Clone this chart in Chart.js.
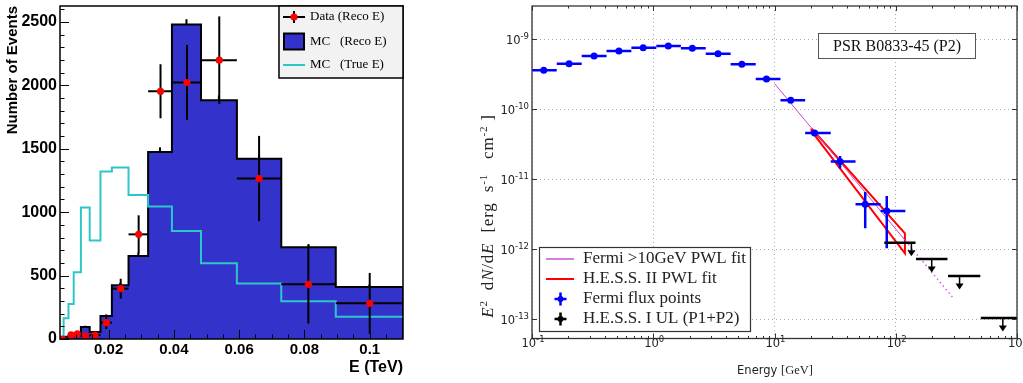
<!DOCTYPE html>
<html>
<head>
<meta charset="utf-8">
<script src="https://cdn.jsdelivr.net/npm/chart.js@4.4.1/dist/chart.umd.min.js"></script>
<style>
  body { margin: 0; background: #fff; }
  .panel { position: absolute; top: 0; }
</style>
</head>
<body>
<canvas id="events" class="panel" style="left:0;width:470px;height:383px" width="470" height="383"></canvas>
<canvas id="sed" class="panel" style="left:470px;width:553px;height:383px" width="553" height="383"></canvas>
<script>
// ---- left panel: number of events per energy bin (TeV)
const binEdges  = [0.0051, 0.0062, 0.0077, 0.0093, 0.0115, 0.0142, 0.0175, 0.0210, 0.0261, 0.0321, 0.0394, 0.0483, 0.0593, 0.0729, 0.0896, 0.1102];
const mcReco    = [5, 18, 25, 30, 95, 55, 181, 423, 655, 1475, 2479, 1882, 1420, 723, 410];
const mcRecoErr = [2, 4, 5, 5, 10, 7, 13, 20, 26, 36, 42, 38, 34, 25, 20];
const mcTrue    = [0, 163, 276, 526, 1036, 776, 1320, 1351, 1136, 1044, 852, 597, 437, 297, 176];
const dataBin   = [0, 2, 3, 4, 5, 6, 7, 8, 9, 10, 11, 12, 13, 14];
const dataE     = [0.0058, 0.0085, 0.0104, 0.0129, 0.0158, 0.0193, 0.0237, 0.0292, 0.0359, 0.0440, 0.0539, 0.0661, 0.0812, 0.1000];
const dataN     = [0, 32, 40, 24, 30, 129, 397, 825, 1953, 2022, 2198, 1265, 431, 281];
const dataErr   = [0, 12, 13, 10, 12, 50, 78, 150, 213, 296, 345, 336, 309, 240];
const countTicks  = [0, 500, 1000, 1500, 2000, 2500];
const tevTicks    = [0.02, 0.04, 0.06, 0.08, 0.1];

// ---- right panel: E^2 dN/dE (erg s^-1 cm^-2) vs energy (GeV)
const fermiEdges = [0.1, 0.16, 0.257, 0.412, 0.66, 1.06, 1.69, 2.71, 4.35, 7.0, 11.2, 17.9, 29.1, 46.6, 75, 120];
const fermiE   = [0.125, 0.202, 0.325, 0.521, 0.826, 1.33, 2.10, 3.42, 5.38, 8.59, 13.6, 21.4, 34.7, 56.0, 84.3];
const fermiF   = [3.61e-10, 4.50e-10, 5.78e-10, 6.81e-10, 7.60e-10, 8.03e-10, 7.44e-10, 6.25e-10, 4.40e-10, 2.72e-10, 1.35e-10, 4.60e-11, 1.80e-11, 4.39e-12, 3.52e-12];
const fermiFlo = [3.5e-10, 4.4e-10, 5.7e-10, 6.7e-10, 7.5e-10, 7.9e-10, 7.3e-10, 6.1e-10, 4.3e-10, 2.62e-10, 1.28e-10, 4.2e-11, 1.43e-11, 2.0e-12, 1.03e-12];
const fermiFhi = [3.7e-10, 4.6e-10, 5.9e-10, 6.9e-10, 7.7e-10, 8.2e-10, 7.6e-10, 6.4e-10, 4.5e-10, 2.82e-10, 1.42e-10, 5.0e-11, 2.16e-11, 6.6e-12, 5.75e-12];
const fitE   = [10, 120];
const fitF   = [2.33e-10, 1.33e-12];
const extE   = [120, 300];
const extF   = [1.33e-12, 1.98e-13];
const hessE  = [20.2, 119];
const hessHi = [5.32e-11, 1.69e-12];
const hessLo = [4.87e-11, 8.77e-13];
const ulE  = [134.6, 198, 336, 764];
const ulLo = [80.4, 147, 270, 503];
const ulHi = [145.5, 267, 498, 1000];
const ulF  = [1.24e-12, 7.28e-13, 4.16e-13, 1.04e-13];
const gevTicks  = [0.1, 1, 10, 100, 1000];
const fluxTicks = [1e-13, 1e-12, 1e-11, 1e-10, 1e-9];

const SANS_B = '"Liberation Sans", Arial, sans-serif';
const SERIF = '"Liberation Serif", "Times New Roman", serif';
const DJV = '"DejaVu Sans", sans-serif';

function clipTo(ctx, a) {
  ctx.save();
  ctx.beginPath();
  ctx.rect(a.left, a.top, a.right - a.left, a.bottom - a.top);
  ctx.clip();
}
function seg(ctx, x0, y0, x1, y1) {
  ctx.beginPath(); ctx.moveTo(x0, y0); ctx.lineTo(x1, y1); ctx.stroke();
}

// histogram outline: value of bin i held between edge i and edge i+1
function histPoints(counts, closed) {
  const last = binEdges.length - 1;
  const pts = [{x: binEdges[0], y: 0}];
  counts.forEach((c, i) => pts.push({x: binEdges[i], y: c}));
  pts.push({x: binEdges[last], y: counts[counts.length - 1]});
  if (closed) pts.push({x: binEdges[last], y: 0});
  return pts;
}

const eventsDecor = {
  id: 'eventsDecor',
  beforeDatasetsDraw(chart) {
    // MC statistical errors, partly hidden by the filled histogram
    const {ctx, chartArea: a, scales: {x, y}} = chart;
    clipTo(ctx, a);
    ctx.strokeStyle = '#000'; ctx.lineWidth = 2;
    mcReco.forEach((c, i) => {
      const px = x.getPixelForValue((binEdges[i] + binEdges[i + 1]) / 2);
      seg(ctx, px, y.getPixelForValue(c - mcRecoErr[i]), px, y.getPixelForValue(c + mcRecoErr[i]));
    });
    ctx.restore();
  },
  beforeDatasetDraw(chart, args) {
    if (args.index !== 0) return;
    const {ctx, chartArea: a, scales: {x, y}} = chart;
    clipTo(ctx, a);
    ctx.strokeStyle = '#000'; ctx.lineWidth = 2;
    dataE.forEach((e, i) => {
      const b = dataBin[i];
      const py = y.getPixelForValue(dataN[i]);
      const px = x.getPixelForValue(e);
      seg(ctx, x.getPixelForValue(binEdges[b]), py, x.getPixelForValue(binEdges[b + 1]), py);
      if (dataErr[i] > 0) seg(ctx, px, y.getPixelForValue(dataN[i] - dataErr[i]), px, y.getPixelForValue(dataN[i] + dataErr[i]));
    });
    ctx.restore();
  },
  afterDraw(chart) {
    const {ctx, chartArea: a, scales: {x, y}} = chart;
    ctx.save();
    // inward ticks
    ctx.strokeStyle = '#000'; ctx.lineWidth = 1;
    for (let v = 0; v <= 2600; v += 100) {
      const py = Math.round(y.getPixelForValue(v)) + 0.5;
      seg(ctx, a.left, py, a.left + (v % 500 === 0 ? 9 : 4.5), py);
    }
    for (let k = 2; k <= 22; k++) {
      const px = Math.round(x.getPixelForValue(k * 0.005)) + 0.5;
      seg(ctx, px, a.bottom, px, a.bottom - (k % 4 === 0 ? 9 : 4.5));
    }
    // frame
    ctx.lineWidth = 1.5;
    ctx.strokeRect(a.left, a.top, a.right - a.left, a.bottom - a.top);

    // legend
    const lx = 279, ly = 6, lw = 124, lh = 72;
    ctx.fillStyle = '#f2f2f2';
    ctx.fillRect(lx, ly, lw, lh);
    ctx.strokeRect(lx, ly, lw, lh);
    const rows = [17, 41.5, 65];
    ctx.lineWidth = 2;
    seg(ctx, 283, rows[0], 305, rows[0]);
    seg(ctx, 294, rows[0] - 6, 294, rows[0] + 6);
    ctx.fillStyle = '#ff0000';
    ctx.beginPath(); ctx.arc(294, rows[0], 3.6, 0, Math.PI * 2); ctx.fill();
    ctx.fillStyle = '#3333cc';
    ctx.fillRect(284, rows[1] - 8, 20, 16);
    ctx.strokeRect(284, rows[1] - 8, 20, 16);
    ctx.strokeStyle = '#2fc6c9';
    seg(ctx, 283, rows[2], 305, rows[2]);
    ctx.fillStyle = '#000';
    ctx.font = '13px ' + SERIF;
    ctx.textBaseline = 'middle';
    ctx.fillText('Data (Reco E)', 310, rows[0]);
    ctx.fillText('MC   (Reco E)', 310, rows[1]);
    ctx.fillText('MC   (True E)', 310, rows[2]);
    ctx.restore();
  }
};

new Chart(document.getElementById('events'), {
  type: 'line',
  data: {
    datasets: [
      {label: 'Data (Reco E)', data: dataE.map((e, i) => ({x: e, y: dataN[i]})), showLine: false,
       pointRadius: 3.6, pointBackgroundColor: '#ff0000', pointBorderWidth: 0, order: 0},
      {label: 'MC (True E)', data: histPoints(mcTrue, false), stepped: true, borderColor: '#2fc6c9',
       borderWidth: 2, pointRadius: 0, fill: false, order: 1},
      {label: 'MC (Reco E)', data: histPoints(mcReco, true), stepped: true, borderColor: '#000',
       borderWidth: 2, backgroundColor: '#3333cc', fill: 'origin', pointRadius: 0, order: 2}
    ]
  },
  options: {
    responsive: false, animation: false, events: [],
    layout: {padding: {left: 0, right: 67, top: 6, bottom: 0}},
    plugins: {legend: {display: false}, tooltip: {enabled: false}},
    scales: {
      x: {
        type: 'linear', min: binEdges[0], max: binEdges[binEdges.length - 1],
        grid: {display: false, drawTicks: false}, border: {display: false},
        afterBuildTicks: s => { s.ticks = tevTicks.map(v => ({value: v})); },
        afterFit: s => { s.height = 44; s.paddingLeft = 0; s.paddingRight = 0; },
        ticks: {color: '#000', padding: 2, maxRotation: 0, autoSkip: false,
                font: {family: SANS_B, size: 15, weight: 'bold'},
                callback: v => String(+(+v).toFixed(3))},
        title: {display: true, text: 'E (TeV)', align: 'end', color: '#000',
                font: {family: SANS_B, size: 16, weight: 'bold'}, padding: {top: 0, bottom: 6}}
      },
      y: {
        type: 'linear', min: 0, max: 2625,
        grid: {display: false, drawTicks: false}, border: {display: false},
        afterBuildTicks: s => { s.ticks = countTicks.map(v => ({value: v})); },
        afterFit: s => { s.width = 60; s.paddingTop = 0; s.paddingBottom = 0; },
        ticks: {color: '#000', padding: 3, autoSkip: false,
                font: {family: SANS_B, size: 16, weight: 'bold'}, callback: v => String(v)},
        title: {display: true, text: 'Number of Events', align: 'end', color: '#000',
                font: {family: SANS_B, size: 15, weight: 'bold'}, padding: {top: 4, bottom: 0}}
      }
    }
  },
  plugins: [eventsDecor]
});

// draw a run of differently styled text pieces; align 'center' or 'right' about (x, baseline)
function drawRun(ctx, parts, x, base, angle, align, spacing) {
  ctx.save();
  ctx.translate(x, base);
  ctx.rotate(angle || 0);
  ctx.textAlign = 'left';
  ctx.textBaseline = 'alphabetic';
  ctx.letterSpacing = spacing || '0px';
  let total = 0;
  parts.forEach(p => { ctx.font = p.f; p.w = ctx.measureText(p.t).width; total += p.w; });
  let px = align === 'right' ? -total : -total / 2;
  parts.forEach(p => { ctx.font = p.f; ctx.fillText(p.t, px, p.dy || 0); px += p.w; });
  ctx.restore();
}
// decade label 10^n with a raised exponent
const powParts = v => [
  {t: '10', f: '11.5px ' + DJV},
  {t: String(Math.round(Math.log10(v))), f: '8.5px ' + DJV, dy: -5}
];

const sedDecor = {
  id: 'sedDecor',
  beforeDatasetDraw(chart, args) {
    if (args.index !== 0) return;
    const {ctx, chartArea: a, scales: {x, y}} = chart;
    clipTo(ctx, a);
    ctx.strokeStyle = '#0000ff'; ctx.lineWidth = 2.5;
    fermiE.forEach((e, i) => {
      const px = x.getPixelForValue(e), py = y.getPixelForValue(fermiF[i]);
      seg(ctx, x.getPixelForValue(fermiEdges[i]), py, x.getPixelForValue(fermiEdges[i + 1]), py);
      seg(ctx, px, y.getPixelForValue(fermiFlo[i]), px, y.getPixelForValue(fermiFhi[i]));
    });
    ctx.restore();
  },
  afterDatasetsDraw(chart) {
    const {ctx, chartArea: a, scales: {x, y}} = chart;
    clipTo(ctx, a);
    ctx.strokeStyle = '#000'; ctx.fillStyle = '#000';
    ulE.forEach((e, i) => {
      const py = y.getPixelForValue(ulF[i]), px = x.getPixelForValue(e);
      ctx.lineWidth = 2.5;
      seg(ctx, x.getPixelForValue(ulLo[i]), py, x.getPixelForValue(ulHi[i]), py);
      ctx.lineWidth = 1.5;
      seg(ctx, px, py, px, py + 8);
      ctx.beginPath();
      ctx.moveTo(px - 4, py + 7.5); ctx.lineTo(px + 4, py + 7.5); ctx.lineTo(px, py + 13.5);
      ctx.closePath(); ctx.fill();
    });
    ctx.restore();
  },
  afterDraw(chart) {
    const {ctx, chartArea: a, scales: {x, y}} = chart;
    ctx.save();
    ctx.strokeStyle = '#333'; ctx.lineWidth = 1;
    // inward ticks on all four sides
    gevTicks.forEach(v => {
      const px = Math.round(x.getPixelForValue(v)) + 0.5;
      seg(ctx, px, a.bottom, px, a.bottom - 5); seg(ctx, px, a.top, px, a.top + 5);
    });
    for (let d = 0.1; d < 1000; d *= 10) {
      for (let m = 2; m <= 9; m++) {
        const px = Math.round(x.getPixelForValue(m * d)) + 0.5;
        seg(ctx, px, a.bottom, px, a.bottom - 2.5); seg(ctx, px, a.top, px, a.top + 2.5);
      }
    }
    fluxTicks.forEach(v => {
      const py = Math.round(y.getPixelForValue(v)) + 0.5;
      seg(ctx, a.left, py, a.left + 5, py); seg(ctx, a.right, py, a.right - 5, py);
    });
    ctx.lineWidth = 1.3;
    ctx.strokeRect(a.left, a.top, a.right - a.left, a.bottom - a.top);

    // tick labels
    ctx.fillStyle = '#222';
    gevTicks.forEach(v => drawRun(ctx, powParts(v), x.getPixelForValue(v) + 1, 346.5, 0, 'center'));
    fluxTicks.forEach(v => drawRun(ctx, powParts(v), a.left - 3, y.getPixelForValue(v) + 4.5, 0, 'right'));

    // source label
    ctx.fillStyle = '#fff';
    ctx.fillRect(348.5, 33.5, 157, 25);
    ctx.strokeStyle = '#555'; ctx.lineWidth = 1;
    ctx.strokeRect(348.5, 33.5, 157, 25);
    ctx.fillStyle = '#111';
    ctx.font = '16px ' + SERIF;
    ctx.textAlign = 'center'; ctx.textBaseline = 'middle';
    ctx.fillText('PSR B0833-45 (P2)', 427, 46.5);

    // legend
    ctx.textAlign = 'left';
    ctx.fillStyle = 'rgba(255,255,255,0.92)';
    ctx.fillRect(69.5, 247.5, 211, 84);
    ctx.strokeStyle = '#333'; ctx.lineWidth = 1.2;
    ctx.strokeRect(69.5, 247.5, 211, 84);
    const rows = [259, 279, 299, 319];
    ctx.lineWidth = 2;
    ctx.strokeStyle = '#d47ee0'; seg(ctx, 76, rows[0], 104, rows[0]);
    ctx.strokeStyle = '#ff0000'; seg(ctx, 76, rows[1], 104, rows[1]);
    [['#0000ff', rows[2]], ['#000', rows[3]]].forEach(([c, ry]) => {
      ctx.strokeStyle = c; ctx.fillStyle = c; ctx.lineWidth = 2.5;
      seg(ctx, 84.5, ry, 96.5, ry); seg(ctx, 90.5, ry - 6.5, 90.5, ry + 6.5);
      ctx.beginPath(); ctx.arc(90.5, ry, 3, 0, Math.PI * 2); ctx.fill();
    });
    ctx.fillStyle = '#222';
    ctx.font = '17px ' + SERIF;
    ctx.textBaseline = 'middle';
    ctx.fillText('Fermi >10GeV PWL fit', 113, rows[0]);
    ctx.fillText('H.E.S.S. II PWL fit', 113, rows[1]);
    ctx.fillText('Fermi flux points', 113, rows[2]);
    ctx.fillText('H.E.S.S. I UL (P1+P2)', 113, rows[3]);

    // axis titles
    ctx.fillStyle = '#222';
    drawRun(ctx, [
      {t: 'E', f: 'italic 17px ' + SERIF},
      {t: '2', f: '11px ' + SERIF, dy: -6},
      {t: '  d', f: '17px ' + SERIF},
      {t: 'N', f: 'italic 17px ' + SERIF},
      {t: '/d', f: '17px ' + SERIF},
      {t: 'E', f: 'italic 17px ' + SERIF},
      {t: '  [erg  s', f: '17px ' + SERIF},
      {t: '-1', f: '11px ' + SERIF, dy: -6},
      {t: '   cm', f: '17px ' + SERIF},
      {t: '-2', f: '11px ' + SERIF, dy: -6},
      {t: ' ]', f: '17px ' + SERIF}
    ], 23, 216, -Math.PI / 2, 'center', '0.8px');
    drawRun(ctx, [
      {t: 'Energy ', f: '11.5px ' + DJV},
      {t: '[GeV]', f: '12.5px ' + SERIF}
    ], 305, 374, 0, 'center');
    ctx.restore();
  }
};

const logAxis = (min, max, list) => ({
  type: 'logarithmic', min: min, max: max,
  grid: {color: '#a8a8a8', lineWidth: 1, drawTicks: false},
  border: {display: false, dash: [1, 3]},
  afterBuildTicks: s => { s.ticks = list.map(v => ({value: v})); },
  ticks: {display: false}
});

const sedX = logAxis(0.1, 1000, gevTicks);
sedX.afterFit = s => { s.height = 44.5; s.paddingLeft = 0; s.paddingRight = 0; };
const sedY = logAxis(5.3e-14, 3e-9, fluxTicks);
sedY.afterFit = s => { s.width = 62; s.paddingTop = 0; s.paddingBottom = 0; };

new Chart(document.getElementById('sed'), {
  type: 'line',
  data: {
    datasets: [
      {label: 'Fermi flux points', data: fermiE.map((e, i) => ({x: e, y: fermiF[i]})), showLine: false,
       pointRadius: 3.5, pointBackgroundColor: '#0000ff', pointBorderWidth: 0, order: 0},
      {label: 'Fermi >10GeV PWL fit', data: fitE.map((e, i) => ({x: e, y: fitF[i]})),
       borderColor: '#cc44cc', borderWidth: 1, pointRadius: 0, fill: false, order: 1},
      {label: 'Fermi extrapolation', data: extE.map((e, i) => ({x: e, y: extF[i]})),
       borderColor: '#d060e0', borderWidth: 1.5, borderDash: [1.5, 3], pointRadius: 0, fill: false, order: 1},
      {label: 'H.E.S.S. II PWL fit',
       data: [{x: hessE[0], y: hessHi[0]}, {x: hessE[1], y: hessHi[1]}, {x: hessE[1], y: hessLo[1]},
              {x: hessE[0], y: hessLo[0]}, {x: hessE[0], y: hessHi[0]}],
       borderColor: '#ff0000', borderWidth: 2, pointRadius: 0, fill: false, order: 2},
      {label: 'H.E.S.S. I UL (P1+P2)', data: ulE.map((e, i) => ({x: e, y: ulF[i]})), showLine: false,
       pointRadius: 0, order: 3}
    ]
  },
  options: {
    responsive: false, animation: false, events: [],
    layout: {padding: {left: 0, right: 6, top: 6, bottom: 0}},
    plugins: {legend: {display: false}, tooltip: {enabled: false}},
    scales: {x: sedX, y: sedY}
  },
  plugins: [sedDecor]
});
</script>
</body>
</html>
